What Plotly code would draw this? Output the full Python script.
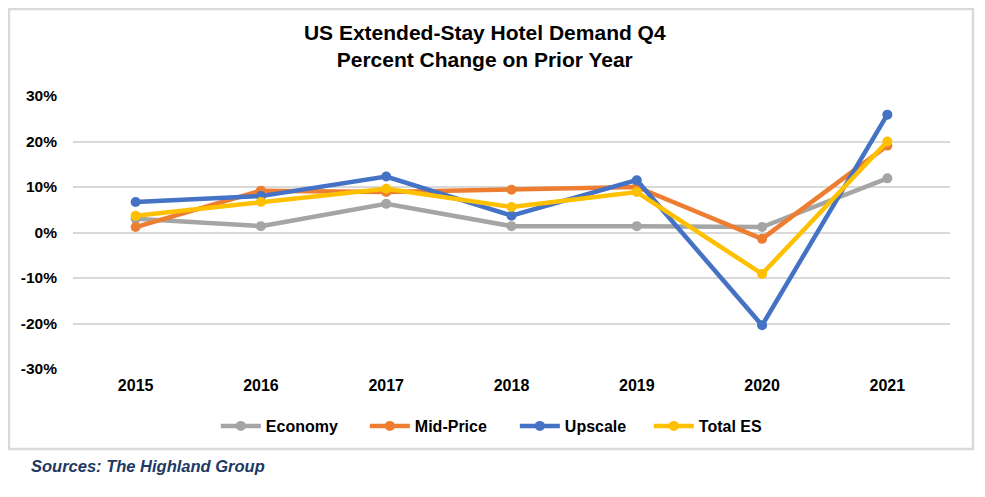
import plotly.graph_objects as go

years = ["2015", "2016", "2017", "2018", "2019", "2020", "2021"]
economy = [0.030, 0.014, 0.063, 0.014, 0.014, 0.012, 0.119]
mid_price = [0.012, 0.092, 0.089, 0.094, 0.100, -0.014, 0.191]
upscale = [0.067, 0.080, 0.123, 0.037, 0.115, -0.204, 0.259]
total_es = [0.037, 0.067, 0.096, 0.056, 0.089, -0.091, 0.200]
y_ticks = [-0.3, -0.2, -0.1, 0.0, 0.1, 0.2, 0.3]
y_tick_labels = ["-30%", "-20%", "-10%", "0%", "10%", "20%", "30%"]

series = [
    ("Economy", economy, "#A5A5A5", 94),
    ("Mid-Price", mid_price, "#ED7D31", 95),
    ("Upscale", upscale, "#4472C4", 79),
    ("Total ES", total_es, "#FFC000", 70),
]

fig = go.Figure()
for name, vals, col, lw in series:
    fig.add_trace(go.Scatter(
        x=years, y=vals, name=name, mode="lines+markers",
        line=dict(color=col, width=4.5),
        marker=dict(color=col, size=10),
        legendwidth=lw,
    ))

W, H = 977, 489
L, T, R, B = 65, 88, 35, 128
PW, PH = W - L - R, H - T - B

fig.update_layout(
    width=W, height=H,
    margin=dict(l=L, r=R, t=T, b=B),
    paper_bgcolor="white", plot_bgcolor="white",
    font=dict(family="Liberation Sans, Arial, sans-serif", color="#000000"),
    title=dict(
        text="<b>US Extended-Stay Hotel Demand Q4<br>Percent Change on Prior Year</b>",
        x=0.488, xanchor="center", y=0.935, yanchor="middle",
        font=dict(size=21, color="#000000"),
    ),
    xaxis=dict(
        type="category", range=[-0.5, 6.5], showgrid=False, showline=False,
        ticks="", zeroline=False, ticklabelstandoff=5,
        tickfont=dict(size=16, color="#000000", weight="bold"),
    ),
    yaxis=dict(
        range=[-0.3, 0.3], tickvals=y_ticks, ticktext=y_tick_labels,
        showgrid=True, gridcolor="#D9D9D9", gridwidth=2,
        zeroline=False, showline=False, ticks="",
        ticklabelstandoff=15,
        tickfont=dict(size=15.5, color="#000000", weight="bold"),
    ),
    legend=dict(
        orientation="h", x=0.481, xanchor="center",
        y=-(418 - (H - B)) / PH, yanchor="middle",
        font=dict(size=16, color="#000000", weight="bold"),
        itemwidth=40, traceorder="normal",
    ),
    showlegend=True,
)

fig.add_shape(type="rect", xref="paper", yref="paper",
              x0=(1 - L) / PW, x1=(965 - L) / PW,
              y0=-(441 - (H - B)) / PH, y1=1 + (T - 1) / PH,
              line=dict(color="#D9D9D9", width=2.5), fillcolor="rgba(0,0,0,0)", layer="below")

fig.add_annotation(
    text="<b><i>Sources: The Highland Group</i></b>", xref="paper", yref="paper",
    x=(21 - L) / PW, y=-(458 - (H - B)) / PH, xanchor="left", yanchor="middle",
    showarrow=False, font=dict(size=16.5, color="#203864"),
)

fig.write_html("out.html")
